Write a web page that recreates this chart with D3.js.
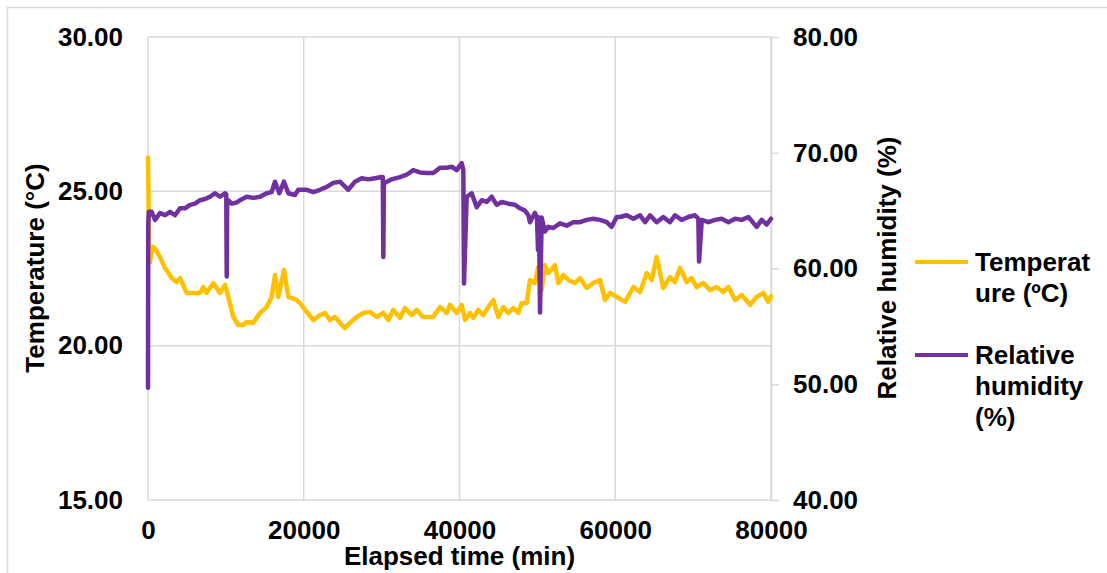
<!DOCTYPE html>
<html>
<head>
<meta charset="utf-8">
<script src="https://cdn.jsdelivr.net/npm/d3@7/dist/d3.min.js"></script>
<style>
  html, body { margin: 0; padding: 0; background: #fff; }
  svg { display: block; }
  text { font-family: "Liberation Sans", Arial, sans-serif; font-weight: bold; fill: #000; }
</style>
</head>
<body>
<svg id="chart" width="1107" height="573"></svg>
<script>
// ---- data ----
const xTicks = [0, 20000, 40000, 60000, 80000];
const tempTicks = [15, 20, 25, 30];
const rhTicks = [40, 50, 60, 70, 80];

const tempTime = [0, 150, 250, 600, 900, 1540, 2180, 3040, 3680, 4110, 4960, 5820, 6680, 7100, 7530, 8390, 9240, 9890, 10310, 10950, 11600, 12240, 12670, 13520, 14380, 15240, 15880, 16310, 16740, 17460, 18020, 19090, 19520, 20380, 21230, 22090, 22730, 23370, 24010, 24650, 25300, 25940, 26800, 27650, 28510, 29370, 30220, 30860, 31500, 32360, 33000, 33860, 34500, 35310, 36600, 37500, 38360, 38780, 39640, 40280, 40710, 41350, 41770, 42410, 43060, 43700, 44340, 44980, 45620, 46270, 46910, 47550, 47980, 48630, 49050, 49690, 50110, 50550, 50980, 51400, 52260, 52690, 53330, 53970, 54830, 55470, 56330, 57180, 58040, 58680, 59320, 60190, 61260, 62330, 63180, 64040, 64680, 65320, 66170, 67030, 67670, 68310, 69170, 69810, 70460, 71310, 72170, 73030, 73880, 74530, 75390, 76240, 77310, 78160, 79010, 79650, 80000];
const tempValues = [26.1, 23.1, 22.7, 23.2, 23.15, 22.87, 22.52, 22.19, 22.06, 22.19, 21.71, 21.71, 21.71, 21.9, 21.71, 22.03, 21.71, 21.97, 21.58, 20.93, 20.67, 20.67, 20.77, 20.74, 21.06, 21.25, 21.58, 22.29, 21.58, 22.45, 21.58, 21.48, 21.38, 21.09, 20.83, 20.99, 21.06, 20.83, 20.93, 20.74, 20.57, 20.74, 20.93, 21.06, 21.09, 20.93, 21.06, 20.83, 21.16, 20.9, 21.22, 20.99, 21.16, 20.93, 20.93, 21.25, 21.06, 21.32, 21.06, 21.32, 20.83, 21.06, 20.9, 21.16, 20.99, 21.25, 21.48, 20.93, 21.25, 21.06, 21.22, 21.06, 21.38, 21.38, 22.13, 22.03, 22.55, 21.8, 22.61, 22.35, 22.61, 22.03, 22.29, 22.13, 22.03, 22.19, 21.87, 22.03, 22.13, 21.48, 21.71, 21.58, 21.42, 21.9, 21.74, 22.35, 22.13, 22.87, 21.87, 22.22, 22.06, 22.52, 22.06, 22.19, 21.9, 22.03, 21.8, 21.9, 21.74, 21.9, 21.48, 21.64, 21.32, 21.58, 21.71, 21.42, 21.6];

const rhTime = [0, 30, 100, 470, 900, 1540, 2180, 2830, 3470, 4110, 4750, 5390, 6040, 6680, 7320, 7960, 8600, 9240, 9890, 10050, 10110, 10170, 10310, 10750, 11390, 11810, 12670, 13520, 14380, 15240, 15880, 16310, 16860, 17460, 18020, 18880, 19300, 19520, 20380, 21230, 22090, 22950, 23800, 24650, 25720, 26580, 27440, 28290, 29150, 30010, 30150, 30220, 30290, 30430, 31290, 32360, 33220, 34060, 34930, 35790, 36640, 37500, 38360, 39000, 39640, 40280, 40490, 40580, 40920, 41560, 42210, 42850, 43490, 44130, 44780, 45420, 46270, 47130, 47770, 48410, 48840, 49050, 49690, 49950, 50080, 50210, 50340, 50550, 50980, 51400, 52040, 52900, 53760, 54610, 55470, 56330, 57180, 58040, 58900, 59540, 60190, 60620, 61470, 62330, 63180, 63830, 64470, 65320, 66170, 67030, 67670, 68530, 69380, 70240, 70670, 70760, 71110, 71960, 72820, 73680, 74530, 75390, 76240, 77100, 78160, 78800, 79450, 80000];
const rhValues = [49.7, 63.8, 64.9, 64.9, 64.2, 64.8, 64.6, 64.9, 64.6, 65.2, 65.2, 65.5, 65.6, 65.9, 66.0, 66.2, 66.5, 66.2, 66.5, 66.4, 59.3, 65.9, 65.9, 65.6, 65.7, 65.9, 66.2, 66.1, 66.2, 66.5, 66.6, 67.5, 66.5, 67.5, 66.5, 66.35, 66.8, 66.8, 66.8, 66.6, 66.8, 67.05, 67.4, 67.5, 66.8, 67.5, 67.8, 67.7, 67.8, 67.9, 67.9, 61.0, 67.4, 67.4, 67.7, 67.9, 68.1, 68.5, 68.3, 68.25, 68.25, 68.7, 68.7, 68.8, 68.5, 69.1, 68.5, 58.7, 66.2, 66.5, 65.3, 65.9, 65.75, 66.2, 65.5, 65.75, 65.6, 65.5, 65.2, 65.0, 64.6, 64.0, 64.8, 64.4, 61.6, 64.4, 56.2, 64.4, 63.2, 63.6, 63.5, 63.9, 63.7, 64.0, 64.0, 64.2, 64.3, 64.2, 64.0, 63.6, 64.45, 64.45, 64.6, 64.3, 64.6, 64.0, 64.6, 64.0, 64.45, 64.0, 64.6, 64.2, 64.45, 64.6, 64.3, 60.6, 64.2, 64.0, 64.2, 64.3, 64.0, 64.3, 64.2, 64.45, 63.6, 64.2, 63.8, 64.3];

const seriesNames = ["Temperat|ure (\u00BAC)", "Relative|humidity|(%)"];
const seriesColors = ["#FFC000", "#7030A0"];

// ---- drawing ----
const svg = d3.select("#chart");
const FS = 26;
const gridColor = "#d9d9d9";

// outer chart frame
svg.append("rect").attr("x", 7.5).attr("y", 7.5).attr("width", 1300).attr("height", 800)
  .attr("fill", "none").attr("stroke", gridColor).attr("stroke-width", 1.5);

const x = d3.scaleLinear().domain([0, 80000]).range([148, 771]);
const yL = d3.scaleLinear().domain([15, 30]).range([500, 37]);
const yR = d3.scaleLinear().domain([40, 80]).range([500, 37]);

// gridlines
svg.append("g").selectAll("line").data(tempTicks).join("line")
  .attr("x1", 148).attr("x2", 771).attr("y1", d => yL(d)).attr("y2", d => yL(d))
  .attr("stroke", gridColor).attr("stroke-width", 1.5);
svg.append("g").selectAll("line").data(xTicks).join("line")
  .attr("x1", d => x(d)).attr("x2", d => x(d)).attr("y1", 37).attr("y2", 500)
  .attr("stroke", gridColor).attr("stroke-width", 1.5);

// axes
const gL = svg.append("g").attr("transform", "translate(148,0)")
  .call(d3.axisLeft(yL).tickValues(tempTicks).tickFormat(d3.format(".2f")).tickSize(0).tickPadding(25));
const gR = svg.append("g").attr("transform", "translate(771,0)")
  .call(d3.axisRight(yR).tickValues(rhTicks).tickFormat(d3.format(".2f")).tickSize(8).tickSizeOuter(0).tickPadding(14));
const gB = svg.append("g").attr("transform", "translate(0,500)")
  .call(d3.axisBottom(x).tickValues(xTicks).tickFormat(d3.format("d")).tickSize(0).tickPadding(21));
[gL, gR, gB].forEach(g => {
  g.selectAll("text").attr("font-size", FS).attr("font-family", "Liberation Sans, Arial, sans-serif").attr("font-weight", "bold").attr("fill", "#000");
  g.selectAll(".tick line").attr("stroke", gridColor).attr("stroke-width", 1.5);
});
gL.select(".domain").remove();
gB.select(".domain").remove();
gR.select(".domain").attr("stroke", gridColor).attr("stroke-width", 1.5);

// lines
const tempData = tempTime.map((t, i) => [t, tempValues[i]]);
const rhData = rhTime.map((t, i) => [t, rhValues[i]]);
svg.append("path").datum(tempData)
  .attr("d", d3.line().x(d => x(d[0])).y(d => yL(d[1])))
  .attr("fill", "none").attr("stroke", seriesColors[0]).attr("stroke-width", 4.5)
  .attr("stroke-linejoin", "round").attr("stroke-linecap", "round");
svg.append("path").datum(rhData)
  .attr("d", d3.line().x(d => x(d[0])).y(d => yR(d[1])))
  .attr("fill", "none").attr("stroke", seriesColors[1]).attr("stroke-width", 4.5)
  .attr("stroke-linejoin", "round").attr("stroke-linecap", "round");

// axis titles
svg.append("text").attr("transform", "translate(44,268) rotate(-90)")
  .attr("text-anchor", "middle").attr("font-size", FS).text("Temperature (\u00B0C)");
svg.append("text").attr("transform", "translate(896,268) rotate(-90)")
  .attr("text-anchor", "middle").attr("font-size", FS).text("Relative humidity (%)");
svg.append("text").attr("x", 459.5).attr("y", 565)
  .attr("text-anchor", "middle").attr("font-size", FS).text("Elapsed time (min)");

// legend
const legendY = [262, 355];
seriesNames.forEach((name, i) => {
  const g = svg.append("g");
  g.append("line").attr("x1", 915).attr("x2", 968).attr("y1", legendY[i]).attr("y2", legendY[i])
    .attr("stroke", seriesColors[i]).attr("stroke-width", 4);
  const t = g.append("text").attr("x", 975).attr("y", legendY[i] + 9).attr("font-size", FS);
  name.split("|").forEach((line, j) => {
    t.append("tspan").attr("x", 975).attr("dy", j === 0 ? 0 : 31).text(line);
  });
});
</script>
</body>
</html>
